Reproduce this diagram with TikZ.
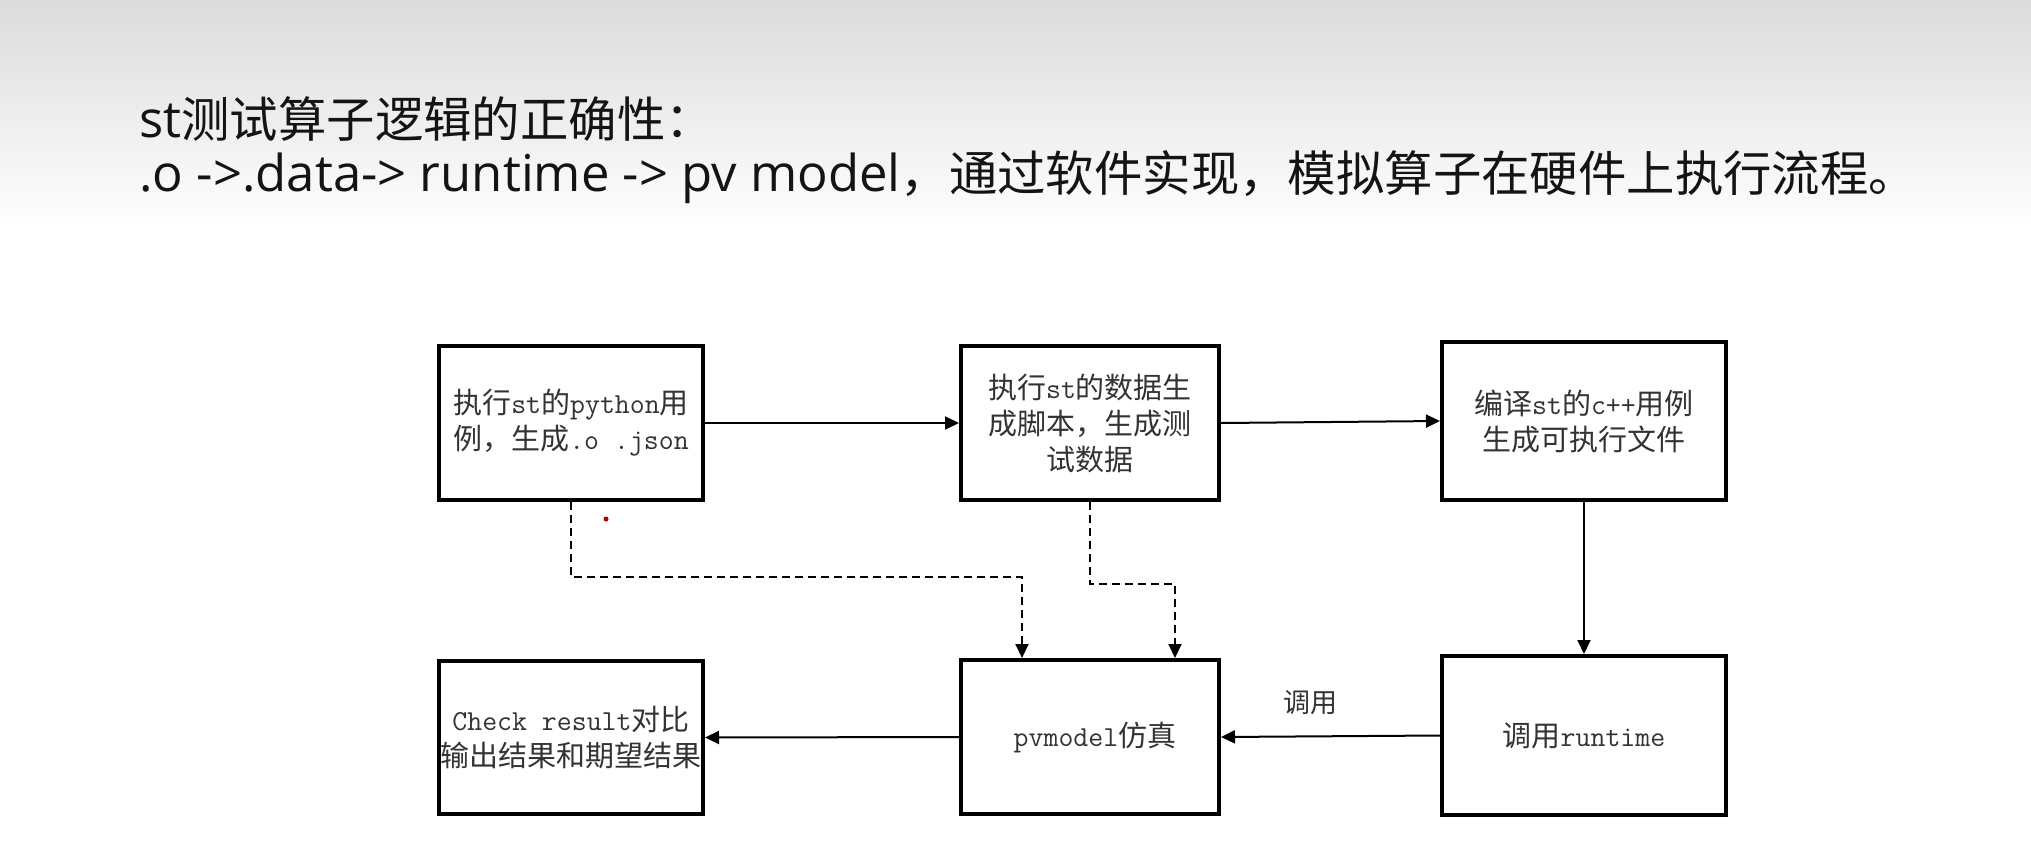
\documentclass[tikz,border=0pt]{standalone}
\usepackage{fontspec}
\usetikzlibrary{arrows.meta,calc}
\setmainfont{Noto Sans CJK SC}
\newfontfamily\cjkfont{Noto Sans CJK SC}
\newfontfamily\latfont[Scale=1.05]{Open Sans}
\newcommand\tm[1]{{\ttfamily #1}}
\newcommand\tl[1]{{\latfont #1}}
\begin{document}
\begin{tikzpicture}[x=0.5pt,y=-0.5pt,
  box/.style={draw=black,line width=2pt,rectangle,inner sep=0pt,align=center,
    text=black!80,font=\cjkfont\fontsize{14.5pt}{18pt}\selectfont},
  arr/.style={line width=1pt,-{Triangle[length=7pt,width=6.5pt]}},
  dsh/.style={line width=1pt,dash pattern=on 4pt off 2.5pt,-{Triangle[length=7pt,width=6.5pt]}},
  title/.style={anchor=west,inner sep=0pt,text=black!92,font=\cjkfont\fontsize{24.2pt}{29pt}\selectfont}]
\useasboundingbox (0,0) rectangle (2031,847);
\fill[white] (0,0) rectangle (2031,847);
\shade[top color=black!14,bottom color=white] (0,0) rectangle (2031,230);

\node[title] (t1) at (139,119) {\tl{st}测试算子逻辑的正确性：};
\node[title] (t2) at (139,177) {\tl{.o ->.data-> runtime -> pv model}，通过软件实现，模拟算子在硬件上执行流程。};

\node[box,minimum width=132pt,minimum height=77pt] (b1) at (571,423)
  {执行\tm{st}的\tm{python}用\\例，生成\tm{.o .json}};
\node[box,minimum width=129pt,minimum height=77pt] (b2) at (1090,423)
  {执行\tm{st}的数据生\\成脚本，生成测\\试数据};
\node[box,minimum width=142pt,minimum height=79pt] (b3) at (1584,421)
  {编译\tm{st}的\tm{c++}用例\\生成可执行文件};
\node[box,minimum width=132pt,minimum height=76.5pt] (b4) at (571,737.5)
  {\tm{Check result}对比\\输出结果和期望结果};
\node[box,minimum width=129pt,minimum height=77pt] (b5) at (1090,737)
  {\hspace*{5pt}\tm{pvmodel}仿真};
\node[box,minimum width=142pt,minimum height=79.5pt] (b6) at (1584,735.5)
  {调用\tm{runtime}};

\draw[arr] (b1.east) -- (b2.west);
\draw[arr] (b2.east) -- (b3.west);
\draw[arr] (b3.south) -- (b6.north);
\draw[arr] (b6.west) -- (b5.east);
\draw[arr] (b5.west) -- (b4.east);

\coordinate (d1) at (1022,577);
\coordinate (d2) at (1175,584);
\draw[dsh] (b1.south) |- (d1) -- (d1 |- b5.north);
\draw[dsh] (b2.south) |- (d2) -- (d2 |- b5.north);

\node[text=black!80,inner sep=0pt,font=\cjkfont\fontsize{13.5pt}{16pt}\selectfont] (call) at (1310,703) {调用};

\fill[red!70!black] (606,519) circle (2.5);
\end{tikzpicture}
\end{document}
